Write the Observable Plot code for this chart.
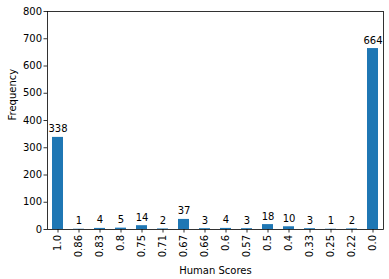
<!DOCTYPE html>
<html>
<head>
<meta charset="utf-8">
<script src="https://cdn.jsdelivr.net/npm/d3@7"></script>
<script src="https://cdn.jsdelivr.net/npm/@observablehq/plot@0.6"></script>
<style>
  html, body { margin: 0; padding: 0; background: #fff; }
  #chart svg { display: block; }
</style>
</head>
<body>
<div id="chart"></div>
<script>
const categories = ["1.0","0.86","0.83","0.8","0.75","0.71","0.67","0.66","0.6","0.57","0.5","0.4","0.33","0.25","0.22","0.0"];
const counts = [338,1,4,5,14,2,37,3,4,3,18,10,3,1,2,664];
const yTicks = [0,100,200,300,400,500,600,700,800];

const data = categories.map((c, i) => ({score: c, freq: counts[i]}));

const chart = Plot.plot({
  width: 389,
  height: 279,
  marginLeft: 47,
  marginRight: 6,
  marginTop: 11,
  marginBottom: 50,
  style: {fontFamily: "DejaVu Sans", fontSize: "10px", color: "#000", background: "#fff"},
  x: {type: "band", domain: categories, paddingInner: 0.5, paddingOuter: 0.25},
  y: {domain: [0, 800]},
  marks: [
    Plot.barY(data, {x: "score", y: "freq", fill: "#1f77b4"}),
    Plot.text(data, {x: "score", y: "freq", text: d => String(d.freq), lineAnchor: "bottom", dy: -5, fill: "#000", fontSize: 10}),
    Plot.frame({stroke: "#000", strokeWidth: 0.8}),
    Plot.axisY({ticks: yTicks, tickSize: 3.5, tickPadding: 2, label: null, fontSize: 10, stroke: "#000", strokeWidth: 0.8}),
    Plot.axisX({tickSize: 3.5, tickPadding: 2, tickRotate: -90, label: null, fontSize: 10, stroke: "#000", strokeWidth: 0.8}),
    Plot.text(["Human Scores"], {frameAnchor: "bottom", dy: 44, text: d => d, fontSize: 10, fill: "#000"}),
    Plot.text(["Frequency"], {frameAnchor: "left", dx: -35, rotate: -90, text: d => d, fontSize: 10, fill: "#000"})
  ]
});
document.getElementById("chart").appendChild(chart);
</script>
</body>
</html>
